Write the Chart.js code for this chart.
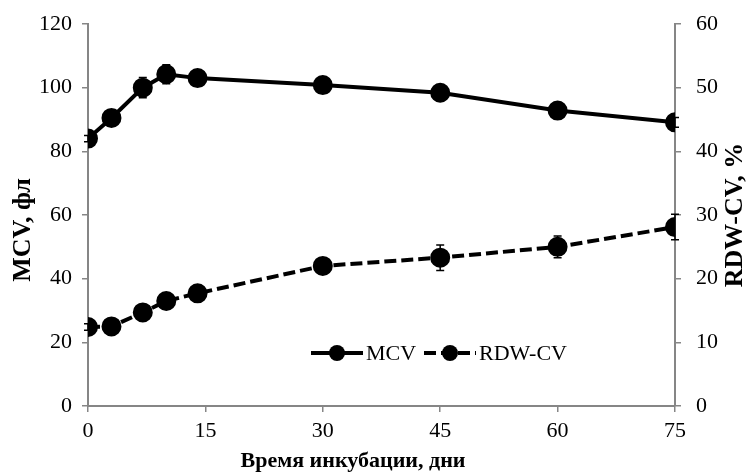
<!DOCTYPE html>
<html>
<head>
<meta charset="utf-8">
<script src="https://cdn.jsdelivr.net/npm/chart.js@4/dist/chart.umd.min.js"></script>
<style>
  html, body { margin: 0; padding: 0; background: #fff; }
  #wrap { width: 747px; height: 474px; }
</style>
</head>
<body>
<div id="wrap"><canvas id="cht" width="747" height="474"></canvas></div>
<script>
// days of incubation
const days = [0, 3, 7, 10, 14, 30, 45, 60, 75];
// MCV, fl (left axis)
const mcv = [84, 90.5, 100, 104.2, 103, 100.8, 98.4, 92.8, 89.1];
const mcvErr = [1, 1.2, 3.2, 3, 2.5, 1.5, 1.2, 1, 1.5];
// RDW-CV, % (right axis)
const rdw = [12.4, 12.5, 14.7, 16.5, 17.7, 22, 23.3, 25, 28.1];
const rdwErr = [0.5, 0.6, 0.7, 0.8, 0.8, 1.1, 2, 1.7, 2];

const xTicks = [0, 15, 30, 45, 60, 75];
const axisGray = '#868686';
const font = 'Liberation Serif, Times New Roman, serif';

const errorBars = {
    id: 'errorBars',
    afterDatasetsDraw(chart) {
        const ctx = chart.ctx;
        const xs = chart.scales.x;
        ctx.save();
        ctx.strokeStyle = '#000';
        ctx.lineWidth = 1.5;
        chart.data.datasets.forEach(function(ds) {
            const ys = chart.scales[ds.yAxisID];
            ds.data.forEach(function(p, i) {
                const e = ds.errors[i];
                const px = xs.getPixelForValue(p.x);
                const top = ys.getPixelForValue(p.y + e);
                const bot = ys.getPixelForValue(p.y - e);
                ctx.beginPath();
                ctx.moveTo(px, top); ctx.lineTo(px, bot);
                ctx.moveTo(px - 4, top); ctx.lineTo(px + 4, top);
                ctx.moveTo(px - 4, bot); ctx.lineTo(px + 4, bot);
                ctx.stroke();
            });
        });
        ctx.restore();
    }
};

// legend inside the plot and the axis titles
const extras = {
    id: 'extras',
    afterDraw(chart) {
        const ctx = chart.ctx;
        const y = 353;
        const items = [
            { x: 311, label: 'MCV', dash: [] },
            { x: 424, label: 'RDW-CV', dash: [12, 5] }
        ];
        ctx.save();
        items.forEach(function(it) {
            ctx.strokeStyle = '#000';
            ctx.lineWidth = 4;
            ctx.setLineDash(it.dash);
            ctx.beginPath();
            ctx.moveTo(it.x, y);
            ctx.lineTo(it.x + 52, y);
            ctx.stroke();
            ctx.setLineDash([]);
            ctx.fillStyle = '#000';
            ctx.beginPath();
            ctx.arc(it.x + 26, y, 8, 0, Math.PI * 2);
            ctx.fill();
            ctx.font = '22px ' + font;
            ctx.textBaseline = 'middle';
            ctx.textAlign = 'left';
            ctx.fillText(it.label, it.x + 55, y + 1);
        });
        ctx.font = 'bold 22px ' + font;
        ctx.textAlign = 'center';
        ctx.textBaseline = 'middle';
        ctx.fillText('Время инкубации, дни', 353, 461);

        ctx.font = 'bold 26px ' + font;
        ctx.save();
        ctx.translate(23, 230);
        ctx.rotate(-Math.PI / 2);
        ctx.fillText('MCV, фл', 0, 0);
        ctx.restore();
        ctx.save();
        ctx.translate(735, 215);
        ctx.rotate(-Math.PI / 2);
        ctx.fillText('RDW-CV, %', 0, 0);
        ctx.restore();
        ctx.restore();
    }
};

function pts(vals) {
    return days.map(function(d, i) { return { x: d, y: vals[i] }; });
}

new Chart(document.getElementById('cht'), {
    type: 'line',
    data: {
        datasets: [{
            label: 'MCV',
            data: pts(mcv),
            errors: mcvErr,
            yAxisID: 'y',
            borderColor: '#000',
            backgroundColor: '#000',
            borderWidth: 4,
            pointRadius: 8,
            pointBackgroundColor: '#000',
            tension: 0
        }, {
            label: 'RDW-CV',
            data: pts(rdw),
            errors: rdwErr,
            yAxisID: 'y1',
            borderColor: '#000',
            backgroundColor: '#000',
            borderWidth: 4,
            borderDash: [12, 5],
            pointRadius: 8,
            pointBackgroundColor: '#000',
            tension: 0
        }]
    },
    options: {
        responsive: false,
        animation: false,
        layout: { padding: { top: 24, right: 0, left: 0, bottom: 0 } },
        plugins: { legend: { display: false }, tooltip: { enabled: false } },
        scales: {
            x: {
                type: 'linear',
                min: 0, max: 75,
                afterBuildTicks(scale) { scale.ticks = xTicks.map(v => ({ value: v })); },
                afterFit(scale) { scale.height = 68; },
                grid: { drawOnChartArea: false, color: axisGray, tickLength: 6, lineWidth: 1.5 },
                border: { color: axisGray, width: 2 },
                ticks: { color: '#000', font: { family: font, size: 22 }, padding: 6, maxRotation: 0 }
            },
            y: {
                position: 'left',
                min: 0, max: 120,
                afterFit(scale) { scale.width = 88; scale.paddingTop = 0; scale.paddingBottom = 0; },
                ticks: { stepSize: 20, color: '#000', font: { family: font, size: 22 }, padding: 10 },
                grid: { drawOnChartArea: false, color: axisGray, tickLength: 6, lineWidth: 1.5 },
                border: { color: axisGray, width: 2 }
            },
            y1: {
                position: 'right',
                min: 0, max: 60,
                afterFit(scale) { scale.width = 72; scale.paddingTop = 0; scale.paddingBottom = 0; },
                ticks: { stepSize: 10, color: '#000', font: { family: font, size: 22 }, padding: 15 },
                grid: { drawOnChartArea: false, color: axisGray, tickLength: 6, lineWidth: 1.5 },
                border: { color: axisGray, width: 2 }
            }
        }
    },
    plugins: [errorBars, extras]
});
</script>
</body>
</html>
